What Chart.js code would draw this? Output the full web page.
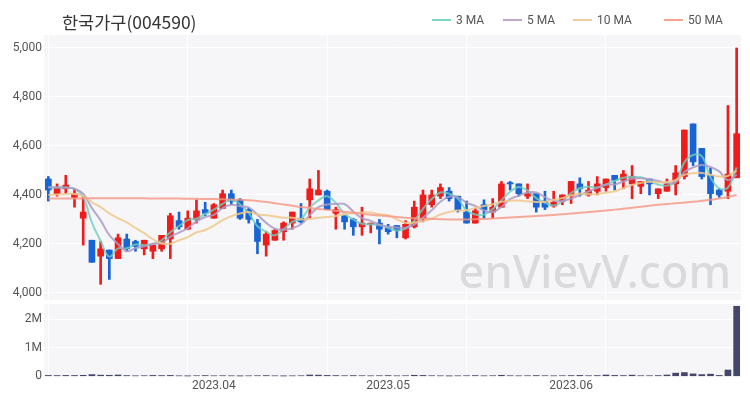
<!DOCTYPE html>
<html>
<head>
<meta charset="utf-8">
<script src="https://cdn.jsdelivr.net/npm/chart.js@4.4.1/dist/chart.umd.min.js"></script>
<style>
  body { margin: 0; background: #fff; }
  #wrap { position: relative; width: 750px; height: 400px; overflow: hidden; }
  canvas { position: absolute; left: 0; }
  #title { position: absolute; left: 62px; top: 9px; font: 17.5px "Noto Sans CJK KR", "Noto Sans", sans-serif; color: #333; }
  .lg { position: absolute; top: 13px; font: 12px Roboto, "Noto Sans", sans-serif; color: #555; white-space: nowrap; }
  .lg i { display: inline-block; width: 19px; height: 2px; vertical-align: middle; margin-right: 5px; margin-top: -2px; }
</style>
</head>
<body>
<div id="wrap">
  <canvas id="priceChart" width="750" height="312" style="top:0"></canvas>
  <canvas id="volChart" width="750" height="110" style="top:291px"></canvas>
  <div id="title">한국가구(004590)</div>
  <div class="lg" style="left:432px"><i style="background:#7fd4c6"></i>3 MA</div>
  <div class="lg" style="left:503px"><i style="background:#b9a8cc"></i>5 MA</div>
  <div class="lg" style="left:573px"><i style="background:#f0cf98"></i>10 MA</div>
  <div class="lg" style="left:664px"><i style="background:#f6a392"></i>50 MA</div>
</div>
<script>
// trading days 2023.03.07 ~ 2023.06.29
var dates = [
  '2023-03-07','2023-03-08','2023-03-09','2023-03-10','2023-03-13','2023-03-14','2023-03-15','2023-03-16','2023-03-17','2023-03-20',
  '2023-03-21','2023-03-22','2023-03-23','2023-03-24','2023-03-27','2023-03-28','2023-03-29','2023-03-30','2023-03-31',
  '2023-04-03','2023-04-04','2023-04-05','2023-04-06','2023-04-07','2023-04-10','2023-04-11','2023-04-12','2023-04-13','2023-04-14',
  '2023-04-17','2023-04-18','2023-04-19','2023-04-20','2023-04-21','2023-04-24','2023-04-25','2023-04-26','2023-04-27','2023-04-28',
  '2023-05-02','2023-05-03','2023-05-04','2023-05-08','2023-05-09','2023-05-10','2023-05-11','2023-05-12','2023-05-15','2023-05-16',
  '2023-05-17','2023-05-18','2023-05-19','2023-05-22','2023-05-23','2023-05-24','2023-05-25','2023-05-26','2023-05-29','2023-05-30','2023-05-31',
  '2023-06-01','2023-06-02','2023-06-05','2023-06-07','2023-06-08','2023-06-09','2023-06-12','2023-06-13','2023-06-14','2023-06-15',
  '2023-06-16','2023-06-19','2023-06-20','2023-06-21','2023-06-22','2023-06-23','2023-06-26','2023-06-27','2023-06-28','2023-06-29'
];

var opens = [4465,4405,4425,4390,4305,4215,4150,4175,4140,4220,4210,4180,4170,4180,4220,4295,4260,4300,4340,4305,
             4345,4405,4380,4340,4285,4195,4215,4250,4285,4305,4380,4400,4415,4325,4315,4300,4270,4280,4285,4265,
             4275,4225,4270,4305,4360,4395,4415,4395,4330,4285,4360,4330,4350,4450,4445,4395,4405,4375,4355,4375,
             4395,4445,4400,4415,4430,4480,4460,4445,4435,4465,4405,4415,4445,4475,4690,4590,4480,4420,4415,4470];
var highs = [4475,4445,4480,4425,4395,4215,4210,4175,4240,4240,4215,4215,4195,4235,4325,4330,4335,4380,4370,4365,
             4420,4420,4385,4345,4300,4250,4260,4290,4330,4365,4465,4500,4420,4350,4315,4305,4350,4285,4300,4280,
             4275,4295,4375,4420,4420,4445,4430,4395,4375,4345,4380,4385,4455,4455,4445,4445,4405,4415,4415,4400,
             4455,4470,4455,4475,4465,4480,4500,4520,4455,4465,4425,4465,4520,4665,4690,4590,4510,4425,4765,5000];
var lows = [4375,4395,4405,4350,4195,4125,4035,4055,4140,4170,4170,4155,4140,4170,4140,4260,4260,4285,4315,4305,
            4345,4360,4300,4285,4160,4150,4215,4215,4260,4285,4305,4400,4340,4260,4260,4235,4235,4245,4200,4240,
            4225,4220,4265,4290,4350,4385,4375,4330,4285,4285,4305,4305,4350,4420,4395,4385,4330,4340,4350,4360,
            4365,4395,4395,4400,4415,4420,4425,4385,4405,4400,4385,4415,4400,4465,4520,4465,4360,4390,4385,4470];
var closes = [4420,4430,4440,4405,4330,4125,4180,4140,4225,4180,4190,4215,4195,4235,4315,4270,4305,4335,4325,4360,
              4405,4375,4305,4300,4210,4240,4255,4285,4330,4290,4425,4420,4340,4340,4290,4270,4285,4285,4260,4250,
              4255,4280,4350,4400,4400,4430,4385,4340,4285,4335,4340,4350,4445,4445,4405,4405,4350,4350,4370,4400,
              4455,4425,4420,4445,4465,4460,4485,4475,4455,4445,4425,4445,4490,4665,4535,4475,4405,4400,4485,4650];
var volumes = [30000,25000,30000,28000,35000,60000,40000,35000,45000,25000,15000,20000,30000,25000,30000,15000,10000,20000,25000,15000,
               20000,15000,10000,15000,20000,25000,15000,10000,15000,20000,45000,40000,30000,25000,20000,25000,20000,15000,20000,25000,
               15000,20000,35000,30000,20000,15000,10000,15000,20000,25000,15000,20000,35000,20000,15000,20000,25000,20000,15000,20000,
               25000,30000,20000,25000,45000,30000,25000,40000,20000,20000,25000,45000,110000,130000,85000,60000,75000,30000,220000,2450000];

var ma3 = [4432,4430,4430,4425,4392,4287,4212,4148,4182,4182,4198,4195,4200,4215,4248,4273,4297,4303,4322,4340,
           4363,4380,4362,4327,4272,4250,4235,4260,4290,4302,4348,4378,4395,4367,4323,4300,4282,4280,4277,4265,
           4255,4262,4295,4343,4383,4410,4405,4385,4337,4320,4320,4342,4378,4413,4432,4418,4387,4368,4357,4373,
           4408,4427,4433,4430,4443,4457,4470,4473,4472,4458,4442,4438,4453,4533,4563,4558,4472,4427,4430,4512];
var ma5 = [4430,4430,4430,4425,4405,4346,4296,4236,4200,4170,4183,4190,4201,4203,4230,4246,4264,4292,4310,4319,
           4346,4360,4354,4349,4319,4286,4262,4258,4264,4280,4317,4350,4361,4363,4363,4332,4305,4294,4278,4270,
           4267,4266,4279,4307,4337,4372,4393,4391,4368,4355,4337,4330,4351,4383,4397,4410,4410,4391,4376,4375,
           4385,4400,4414,4429,4442,4443,4455,4466,4468,4464,4457,4449,4452,4494,4512,4522,4514,4496,4460,4483];
var ma10 = [4400,4402,4404,4404,4395,4370,4350,4325,4305,4288,4265,4244,4219,4202,4201,4215,4228,4247,4257,4275,
            4297,4313,4324,4330,4320,4317,4312,4307,4307,4300,4302,4307,4310,4314,4322,4325,4328,4328,4321,4317,
            4300,4286,4287,4293,4304,4320,4330,4336,4338,4347,4355,4362,4372,4376,4377,4374,4371,4372,4380,4387,
            4398,4406,4403,4403,4409,4415,4428,4441,4449,4454,4451,4453,4460,4482,4489,4490,4482,4475,4478,4498];
var ma50 = [4385,4385,4385,4385,4386,4386,4386,4386,4386,4386,4386,4386,4385,4385,4385,4385,4384,4384,4383,4383,
            4382,4381,4380,4378,4375,4371,4366,4361,4356,4351,4347,4343,4339,4335,4331,4327,4323,4319,4316,4313,
            4310,4307,4305,4303,4302,4301,4300,4300,4300,4301,4302,4304,4306,4308,4310,4312,4314,4316,4318,4321,
            4324,4327,4330,4333,4336,4340,4344,4348,4352,4356,4360,4363,4366,4369,4372,4376,4380,4385,4392,4400];

var priceTicks = [4000, 4200, 4400, 4600, 4800, 5000];
var volTicks = [0, 1000000, 2000000];
var volTickLabels = ['0', '1M', '2M'];

var UP = '#f01c1c';
var DOWN = '#1863d6';
var candleColors = closes.map(function (c, i) { return c >= opens[i] ? UP : DOWN; });

var tickFont = { family: 'Roboto, "Noto Sans", sans-serif', size: 12 };
var paneBg = '#f6f6f8';

var paneBackground = {
    id: 'paneBackground',
    beforeDraw: function (chart) {
        var a = chart.chartArea, ctx = chart.ctx;
        ctx.save();
        ctx.fillStyle = paneBg;
        ctx.fillRect(a.left, a.top, a.right - a.left, a.bottom - a.top);
        ctx.restore();
    }
};

var watermark = {
    id: 'watermark',
    beforeDatasetsDraw: function (chart) {
        var ctx = chart.ctx;
        ctx.save();
        ctx.font = '500 45px "Noto Sans", sans-serif';
        ctx.fillStyle = '#dadadc';
        ctx.textAlign = 'right';
        ctx.textBaseline = 'alphabetic';
        ctx.fillText('enVievV.com', 731, 288);
        ctx.restore();
    }
};

function gridX(context) {
    return context.index % 16 === 0 ? '#ffffff' : 'rgba(0,0,0,0)';
}

function monthLabel(value, index) {
    var d = dates[index];
    if (index === 0) return '';
    if (dates[index - 1].slice(0, 7) === d.slice(0, 7)) return '';
    return d.slice(0, 4) + '.' + d.slice(5, 7);
}

function maLine(label, data, color) {
    return {
        type: 'line', label: label, data: data,
        borderColor: color, borderWidth: 2, pointRadius: 0,
        tension: 0.4, order: 1
    };
}

// price pane: chart area 44..741 x 34..299
var priceCtx = document.getElementById('priceChart').getContext('2d');
var priceChart = new Chart(priceCtx, {
    type: 'bar',
    data: {
        labels: dates,
        datasets: [
            maLine('50 MA', ma50, 'rgba(246,150,130,0.8)'),
            maLine('10 MA', ma10, 'rgba(240,200,140,0.85)'),
            maLine('5 MA', ma5, 'rgba(172,155,198,0.85)'),
            maLine('3 MA', ma3, 'rgba(110,205,190,0.8)'),
            {
                label: 'wick',
                data: lows.map(function (l, i) { return [l, highs[i]]; }),
                backgroundColor: candleColors,
                barThickness: 2, grouped: false, order: 3
            },
            {
                label: 'body',
                data: opens.map(function (o, i) { return [o, closes[i]]; }),
                backgroundColor: candleColors,
                barThickness: 6, minBarLength: 1, grouped: false, order: 2
            }
        ]
    },
    options: {
        responsive: false,
        animation: false,
        layout: { padding: { top: 35, right: 9, bottom: 12, left: 0 } },
        plugins: { legend: { display: false }, tooltip: { enabled: false } },
        scales: {
            x: {
                offset: true,
                grid: { offset: false, color: gridX, drawTicks: false },
                ticks: { display: false, autoSkip: false },
                border: { display: false },
                afterFit: function (s) { s.height = 0; }
            },
            y: {
                min: 3971, max: 5053,
                afterFit: function (s) { s.width = 44; },
                afterBuildTicks: function (s) { s.ticks = priceTicks.map(function (v) { return { value: v }; }); },
                grid: { color: '#ffffff', drawTicks: false },
                border: { display: false },
                ticks: {
                    color: '#555', font: tickFont, padding: 2,
                    callback: function (v) { return v.toLocaleString('en-US'); }
                }
            }
        }
    },
    plugins: [paneBackground, watermark]
});

// volume pane: chart area 44..741 x 303..376
var volCtx = document.getElementById('volChart').getContext('2d');
var volChart = new Chart(volCtx, {
    type: 'bar',
    data: {
        labels: dates,
        datasets: [{
            label: 'volume',
            data: volumes,
            backgroundColor: '#44466a',
            barThickness: 6
        }]
    },
    options: {
        responsive: false,
        animation: false,
        layout: { padding: { top: 13, right: 9, bottom: 0, left: 0 } },
        plugins: { legend: { display: false }, tooltip: { enabled: false } },
        scales: {
            x: {
                offset: true,
                grid: { offset: false, color: gridX, drawTicks: false },
                border: { display: false },
                ticks: {
                    autoSkip: false, maxRotation: 0, padding: 2,
                    color: '#555', font: tickFont,
                    callback: monthLabel
                },
                afterFit: function (s) { s.height = 24; }
            },
            y: {
                min: -25000, max: 2530000,
                afterFit: function (s) { s.width = 44; },
                afterBuildTicks: function (s) { s.ticks = volTicks.map(function (v) { return { value: v }; }); },
                grid: { color: '#ffffff', drawTicks: false },
                border: { display: false },
                ticks: {
                    color: '#555', font: tickFont, padding: 2,
                    callback: function (v) { return volTickLabels[volTicks.indexOf(v)]; }
                }
            }
        }
    },
    plugins: [paneBackground]
});
</script>
</body>
</html>
